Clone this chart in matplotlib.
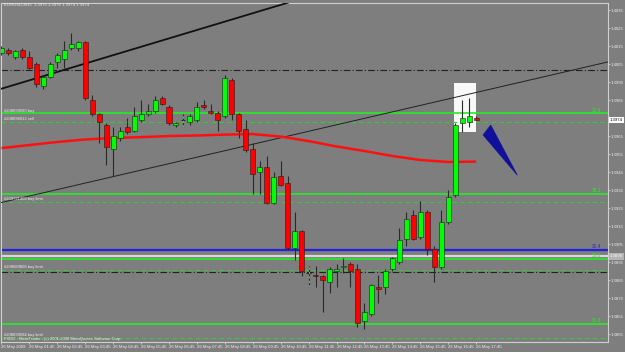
import matplotlib.pyplot as plt
import numpy as np
from matplotlib.patches import Rectangle, Polygon

plt.rcParams['font.family'] = ['Liberation Sans', 'DejaVu Sans']

# EURUSD M15 candles, 26 May 2009 00:45 .. 17:45
opens = [1.4011, 1.4013, 1.4009, 1.4013, 1.4009, 1.4005, 1.3993, 1.3998, 1.4006, 1.4008, 1.4014, 1.4014,
         1.4017, 1.3985, 1.3977, 1.3971, 1.3958, 1.3964, 1.3970, 1.3968, 1.3974, 1.3977, 1.3979, 1.3986, 1.3981, 1.3971,
         1.3974, 1.3973, 1.3974, 1.3982, 1.3979, 1.3978, 1.3976, 1.3996, 1.3977, 1.3969, 1.3958, 1.3945, 1.3948, 1.3928,
         1.3943, 1.3939, 1.3903, 1.3912, 1.3889, 1.3888, 1.3887, 1.3884, 1.3890, 1.3892, 1.3894, 1.3891, 1.3862, 1.3866,
         1.3881, 1.3881, 1.3891, 1.3895, 1.3908, 1.3921, 1.3909, 1.3923, 1.3902, 1.3892, 1.3917, 1.3932, 1.3972, 1.3973, 1.3975]
highs = [1.4015, 1.4014, 1.4013, 1.4014, 1.4012, 1.4006, 1.3999, 1.4006, 1.4011, 1.4018, 1.4022, 1.4018,
         1.4018, 1.3988, 1.3978, 1.3972, 1.3970, 1.3970, 1.3975, 1.3981, 1.3985, 1.3983, 1.3987, 1.3987, 1.3982, 1.3973,
         1.3977, 1.3977, 1.3984, 1.3985, 1.3983, 1.3979, 1.3999, 1.3997, 1.3978, 1.3974, 1.3961, 1.3951, 1.3954, 1.3945,
         1.3951, 1.3943, 1.3923, 1.3913, 1.3893, 1.3893, 1.3888, 1.3892, 1.3894, 1.3897, 1.3895, 1.3894, 1.3872, 1.3883,
         1.3888, 1.3891, 1.3898, 1.3914, 1.3923, 1.3924, 1.3929, 1.3924, 1.3904, 1.3924, 1.3935, 1.3972, 1.3985, 1.3986, 1.3976]
lows = [1.4010, 1.4010, 1.4008, 1.4008, 1.4002, 1.3992, 1.3991, 1.3997, 1.4003, 1.4003, 1.4013, 1.4012,
        1.3985, 1.3976, 1.3961, 1.3949, 1.3943, 1.3962, 1.3966, 1.3967, 1.3973, 1.3976, 1.3978, 1.3982, 1.3971, 1.3970,
        1.3970, 1.3971, 1.3973, 1.3980, 1.3977, 1.3968, 1.3975, 1.3974, 1.3964, 1.3956, 1.3933, 1.3933, 1.3927, 1.3927,
        1.3937, 1.3902, 1.3896, 1.3887, 1.3881, 1.3881, 1.3867, 1.3878, 1.3881, 1.3889, 1.3881, 1.3859, 1.3858, 1.3865,
        1.3872, 1.3877, 1.3890, 1.3894, 1.3904, 1.3907, 1.3908, 1.3899, 1.3884, 1.3891, 1.3916, 1.3931, 1.3967, 1.3970, 1.3974]
closes = [1.4014, 1.4011, 1.4012, 1.4009, 1.4003, 1.3994, 1.3998, 1.4005, 1.4010, 1.4013, 1.4016, 1.4017,
          1.3986, 1.3977, 1.3973, 1.3959, 1.3965, 1.3968, 1.3967, 1.3976, 1.3977, 1.3979, 1.3985, 1.3983, 1.3972, 1.3972,
          1.3974, 1.3976, 1.3981, 1.3981, 1.3978, 1.3974, 1.3997, 1.3977, 1.3968, 1.3957, 1.3944, 1.3948, 1.3928, 1.3942,
          1.3938, 1.3903, 1.3912, 1.3890, 1.3889, 1.3887, 1.3885, 1.3891, 1.3891, 1.3893, 1.3890, 1.3861, 1.3867, 1.3882,
          1.3880, 1.3890, 1.3897, 1.3907, 1.3919, 1.3908, 1.3923, 1.3902, 1.3892, 1.3917, 1.3931, 1.3971, 1.3975, 1.3976, 1.3974]

# moving average, read every hour (every 4th bar)
ma_idx = [0, 4, 8, 12, 16, 20, 24, 28, 32, 36, 40, 44, 48, 52, 56, 60, 64, 68]
ma_val = [1.39583, 1.39600, 1.39617, 1.39631, 1.39639, 1.39644, 1.39650, 1.39653, 1.39658,
          1.39661, 1.39647, 1.39622, 1.39592, 1.39567, 1.39539, 1.39517, 1.39506, 1.39508]

# trend lines (bar index, price)
trend_thick = [(0, 1.39913), (28, 1.40239)]
trend_thin = [(0, 1.39281), (68, 1.39892)]

# horizontal objects
fib_levels = [1.39776, 1.39328, 1.38967, 1.38606]
fib_labels = ['23.6', '38.2', '50.0', '61.8']
orders = [1.39730, 1.39285, 1.38906, 1.38529]
order_text = ['#208096612 sell', '#209721408 buy limit', '#208689806 buy limit', '#208694584 buy limit']
buy_line_text = '#208094580 buy'
dashdot_levels = [1.40015, 1.38893]
blue_level = 1.39017
gray_level = 1.38981

time_ticks = list(range(0, 69, 4))
time_labels = ['26 May 2009'] + ['26 May %02d:45' % h for h in range(1, 18)]
price_ticks = [round(1.3855 + 0.001 * k, 4) for k in range(19)]

bg = '#7e7e7e'
axc = '#d0d0d0'
txt = '#eeeeee'

fig = plt.figure(figsize=(6.25, 3.52), dpi=100)
fig.patch.set_facecolor(bg)
ax = fig.add_axes([1 / 625, 10 / 352, 607 / 625, 339 / 352])
ax.set_facecolor(bg)
ax.set_xlim(-0.07, 86.9)
ax.set_ylim(1.38506, 1.40389)

# horizontal lines
for lv in dashdot_levels:
    ax.axhline(lv, color='#202020', lw=0.8, ls=(0, (6, 2, 1, 2)), zorder=2)
for lv, lb in zip(fib_levels, fib_labels):
    ax.axhline(lv, color='#22ee22', lw=1.2, zorder=2)
    ax.text(85.9, lv + 0.00003, lb, color='#22ee22', fontsize=3.4, ha='right', va='bottom', zorder=6)
for lv in orders:
    ax.axhline(lv, color='#33cc33', lw=0.8, ls=(0, (4, 3)), zorder=2)
ax.axhline(blue_level, color='#2020dd', lw=1.6, zorder=2)
ax.text(85.9, blue_level + 0.00003, '31.4', color='#2020dd', fontsize=3.4, ha='right', va='bottom', zorder=6)
ax.axhline(gray_level, color='#d8d8d8', lw=1.6, zorder=2)

# order labels at left
ax.text(0.4, fib_levels[0] + 0.00003, buy_line_text, color=txt, fontsize=3.0, va='bottom', zorder=6)
for lv, t in zip(orders, order_text):
    ax.text(0.4, lv + 0.00003, t, color=txt, fontsize=3.0, va='bottom', zorder=6)

# white box around last bars
ax.add_patch(Rectangle((64.8, 1.39672), 3.2, 0.00272, facecolor='#f8f8f8', edgecolor='none', zorder=1.5))

# trend lines
(x0, y0), (x1, y1) = trend_thick
s = (y1 - y0) / (x1 - x0)
ax.plot([-1, 60], [y0 + s * (-1 - x0), y0 + s * (60 - x0)], color='#111111', lw=1.3, zorder=3)
(x0, y0), (x1, y1) = trend_thin
s = (y1 - y0) / (x1 - x0)
ax.plot([x0, 90], [y0, y0 + s * (90 - x0)], color='#222222', lw=0.7, zorder=3)

# moving average
ax.plot(ma_idx, ma_val, color='#ff1010', lw=1.8, zorder=3, solid_capstyle='butt')

# candles
idx = np.arange(len(opens))
ax.vlines(idx, lows, highs, color='#2a2a2a', lw=0.8, zorder=4)
for i, (o, c) in enumerate(zip(opens, closes)):
    if c > o:
        col = '#00ff00'
    elif c < o:
        col = '#ff0000'
    else:
        ax.hlines(o, i - 0.35, i + 0.35, color='#2a2a2a', lw=0.8, zorder=5)
        continue
    ax.add_patch(Rectangle((i - 0.36, min(o, c)), 0.72, abs(c - o), facecolor=col,
                           edgecolor='#1e1e1e', lw=0.4, zorder=5))

# order traces
ax.vlines([26, 44], [1.3970, 1.3881], [1.3977, 1.3893], color='#33dd33', lw=0.8, ls=(0, (2, 2)), zorder=6)

# blue arrow
ax.add_patch(Polygon([(69.0, 1.39656), (70.1, 1.39711), (73.9, 1.39433)], closed=True,
                     facecolor='#10109a', edgecolor='#10109a', lw=0.5, zorder=6))

# axes styling
for sp in ax.spines.values():
    sp.set_color(axc)
    sp.set_linewidth(0.8)
ax.yaxis.tick_right()
ax.set_yticks(price_ticks)
# the 1.3975 label sits under the current price box
ax.set_yticklabels(['' if abs(p - 1.3975) < 1e-6 else '%.4f' % p for p in price_ticks])
ax.set_xticks(time_ticks)
ax.set_xticklabels(time_labels, ha='left')
ax.tick_params(axis='both', colors=axc, labelcolor=txt, length=1.5, width=0.6, pad=0.6)
ax.tick_params(axis='y', labelsize=3.1)
ax.tick_params(axis='x', labelsize=3.1)

# current price / level boxes
ax.text(1.003, closes[-1], '%.4f' % closes[-1], transform=ax.get_yaxis_transform(), fontsize=3.1,
        color='black', va='center', ha='left', zorder=10,
        bbox=dict(boxstyle='square,pad=0.25', facecolor='white', edgecolor='none'))
ax.text(1.003, gray_level, '%.4f' % gray_level, transform=ax.get_yaxis_transform(), fontsize=3.1,
        color='#f8f8f8', va='center', ha='left', zorder=10,
        bbox=dict(boxstyle='square,pad=0.25', facecolor='#b4b4b4', edgecolor='none'))

fig.text(4 / 625, 1 - 5 / 352, 'EURUSD,M15  %.4f %.4f %.4f %.4f' % (opens[-1], highs[-1], lows[-1], closes[-1]),
         color=txt, fontsize=3.1, va='center', ha='left')
ax.text(0.005, 0.003, 'FXDD - MetaTrader - (c) 2001-2008 MetaQuotes Software Corp.', transform=ax.transAxes,
        color=txt, fontsize=3.0, va='bottom', ha='left', zorder=6)

fig.savefig('out.png', dpi=100, facecolor=bg)
